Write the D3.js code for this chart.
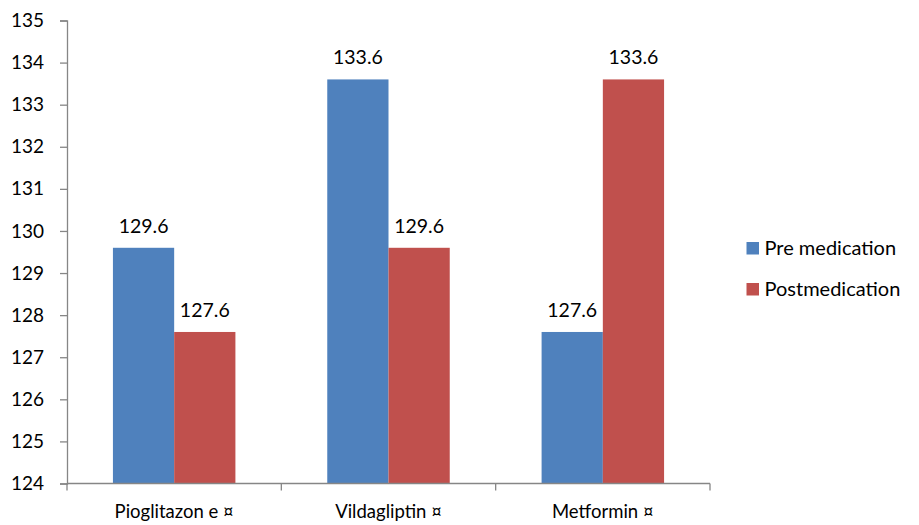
<!DOCTYPE html>
<html>
<head>
<meta charset="utf-8">
<script src="https://cdn.jsdelivr.net/npm/d3@7"></script>
<style>
  body { margin: 0; background: #fff; }
  svg text { font-family: Lato, "Open Sans", sans-serif; fill: #000; }
</style>
</head>
<body>
<div id="chart"></div>
<script>
// values
const categories = ["Pioglitazon e \u00a4", "Vildagliptin \u00a4", "Metformin \u00a4"];
const seriesNames = ["Pre medication", "Postmedication"];
const preValues = [129.6, 133.6, 127.6];
const postValues = [127.6, 129.6, 133.6];
const yTicks = [124, 125, 126, 127, 128, 129, 130, 131, 132, 133, 134, 135];
const colors = ["#4F81BD", "#C0504D"];

const W = 919, H = 525;
const plot = { left: 67, right: 710, top: 20.5, bottom: 483.5 };

const svg = d3.select("#chart").append("svg")
    .attr("width", W)
    .attr("height", H);

const x = d3.scaleBand()
    .domain(categories)
    .range([plot.left, plot.right])
    .paddingInner(0)
    .paddingOuter(0);

const y = d3.scaleLinear()
    .domain([124, 135])
    .range([plot.bottom, plot.top]);

// excel-like gap width 150%: band = 2 bars + 1.5 bar
const barW = x.bandwidth() / 3.5;
const inner = d3.scaleBand().domain([0, 1]).range([0.75 * barW, 2.75 * barW]);

const rows = categories.map((c, i) => ({ cat: c, vals: [preValues[i], postValues[i]] }));

const groups = svg.append("g").selectAll("g")
    .data(rows)
    .enter().append("g")
    .attr("transform", d => "translate(" + x(d.cat) + ",0)");

groups.selectAll("rect")
    .data(d => d.vals.map((v, k) => ({ v, k })))
    .enter().append("rect")
    .attr("x", d => inner(d.k))
    .attr("width", inner.bandwidth())
    .attr("y", d => y(d.v))
    .attr("height", d => y(124) - y(d.v))
    .attr("fill", d => colors[d.k]);

groups.selectAll("text.val")
    .data(d => d.vals.map((v, k) => ({ v, k })))
    .enter().append("text")
    .attr("class", "val")
    .attr("x", d => inner(d.k) + inner.bandwidth() / 2)
    .attr("y", d => y(d.v) - 15)
    .attr("text-anchor", "middle")
    .attr("font-size", 19.5)
    .text(d => d.v.toFixed(1));

// y axis
const yAxis = svg.append("g")
    .attr("transform", "translate(" + plot.left + ",0)")
    .call(d3.axisLeft(y).tickValues(yTicks).tickSize(7).tickPadding(16).tickFormat(d3.format("d")));
yAxis.select(".domain").attr("stroke", "#868686").attr("stroke-width", 1.3);
yAxis.selectAll(".tick line").attr("stroke", "#868686").attr("stroke-width", 1.3);
yAxis.selectAll("text").attr("font-size", 19).attr("font-family", null);

// x axis
const xEdges = categories.map(c => x(c)).concat([plot.right]);
svg.append("line")
    .attr("x1", plot.left).attr("x2", plot.right)
    .attr("y1", plot.bottom).attr("y2", plot.bottom)
    .attr("stroke", "#868686").attr("stroke-width", 1.3);
svg.append("g").selectAll("line")
    .data(xEdges)
    .enter().append("line")
    .attr("x1", d => d).attr("x2", d => d)
    .attr("y1", plot.bottom).attr("y2", plot.bottom + 7)
    .attr("stroke", "#868686").attr("stroke-width", 1.3);
svg.append("g").selectAll("text")
    .data(categories)
    .enter().append("text")
    .attr("x", d => x(d) + x.bandwidth() / 2)
    .attr("y", 518)
    .attr("text-anchor", "middle")
    .attr("font-size", 18.5)
    .text(d => d);

// legend
const legend = svg.append("g").selectAll("g")
    .data(seriesNames)
    .enter().append("g")
    .attr("transform", (d, i) => "translate(746.5," + (242 + i * 41) + ")");
legend.append("rect")
    .attr("width", 12.5).attr("height", 12.5)
    .attr("fill", (d, i) => colors[i]);
legend.append("text")
    .attr("x", 18)
    .attr("y", 13)
    .attr("font-size", 20)
    .text(d => d);
</script>
</body>
</html>
